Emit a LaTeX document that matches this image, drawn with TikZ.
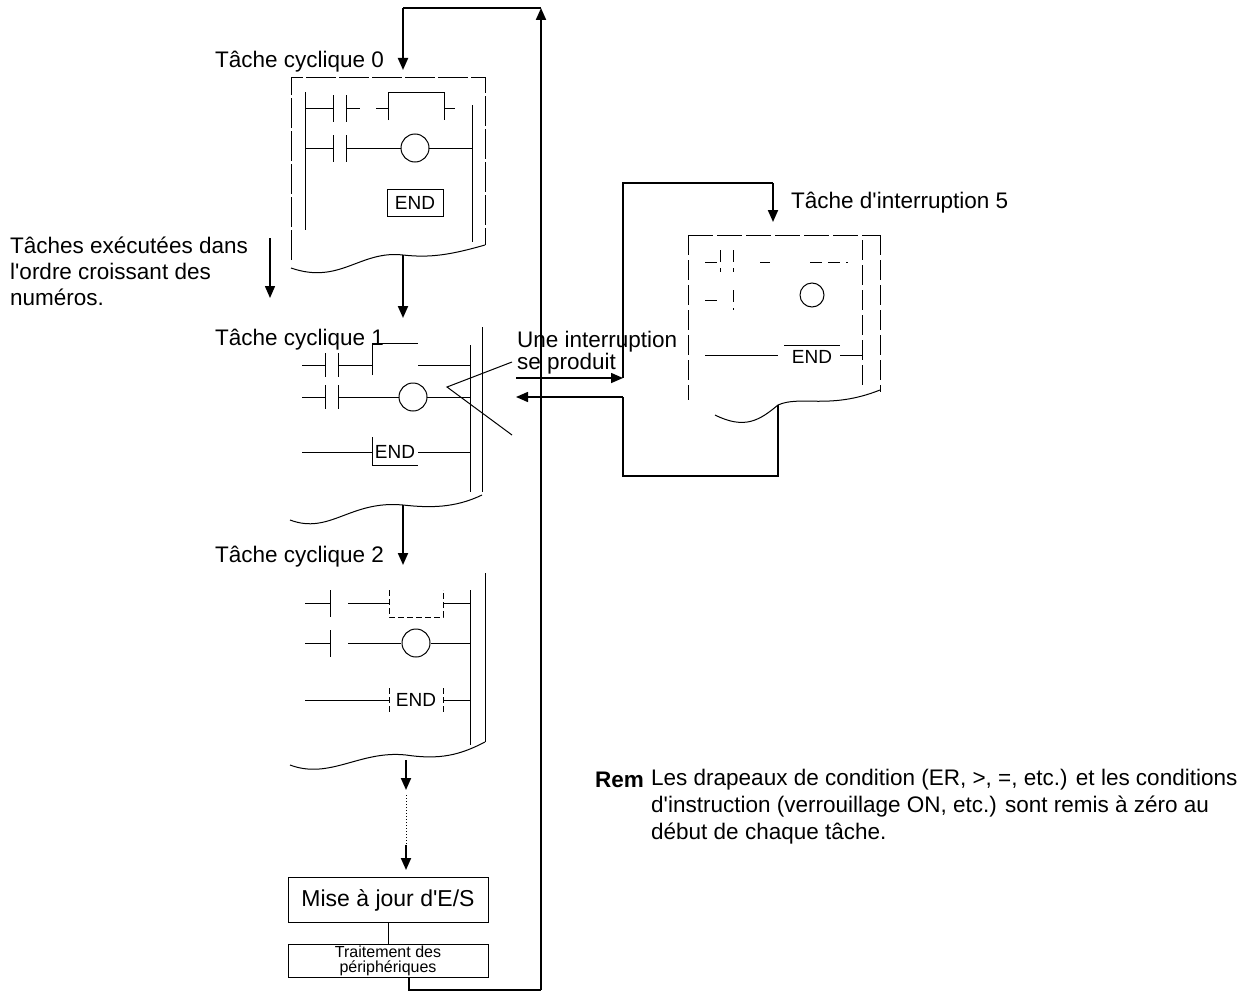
\documentclass[tikz,border=0pt]{standalone}
\usepackage{fontspec}
\setmainfont{Liberation Sans}
\usepackage{textcomp}
\usetikzlibrary{arrows.meta}
\newcommand{\qq}{\textquotesingle}
\begin{document}
\begin{tikzpicture}[x=1pt,y=-1pt,
 lad/.style={line width=1pt},
 flow/.style={line width=2pt},
 arr/.style={flow,-{Triangle[length=12pt,width=10pt]}},
 lbl/.style={font=\fontsize{22.5}{26}\selectfont,anchor=base west,inner sep=0},
 endf/.style={font=\fontsize{19}{20}\selectfont},
 box/.style={draw,line width=1pt,minimum width=200pt,align=center,inner sep=0}]
\useasboundingbox (0,0) rectangle (1260,998);
% main return loop
\coordinate (ret0) at (409,990);
\coordinate (ret1) at (541,990);
\coordinate (top1) at (541,8);
\coordinate (top0) at (403,8);
\draw[arr] (ret1) -- (top1);
\draw[flow] (top1) -- (top0);
\draw[arr] (top0) -- (403,70);
% task 0
\node[lbl] (t0) at (215,67) {Tâche cyclique 0};
\draw[lad,dash pattern=on 30pt off 3pt] (291,260) -- (291,77) -- (485,77) -- (485,245);
\draw[lad] (305,92)--(305,230) (472,105)--(472,242);
\draw[lad] (291,268) .. controls (340,285) and (360,250) .. (403,255) .. controls (430,258) and (450,255) .. (485,245);
\draw[lad] (305,108)--(333,108) (333,95)--(333,122) (346,95)--(346,122) (346,108)--(360,108)
 (376,108)--(388,108) (388,120)--(388,92)--(444,92)--(444,120) (444,108)--(455,108);
\draw[lad] (305,148)--(333,148) (333,135)--(333,162) (346,135)--(346,162) (346,148)--(401,148)
 (429,148)--(472,148);
\draw[lad] (415,148) circle (14);
\node[draw,lad,minimum width=56pt,minimum height=27pt,inner sep=0,endf] (e0) at (415,203) {END};
\draw[arr] (403,255) -- (403,318);
% left note
\node[lbl] (n1) at (10,253) {Tâches exécutées dans};
\node[lbl] (n2) at (10,279) {l\qq ordre croissant des};
\node[lbl] (n3) at (10,305) {numéros.};
\draw[arr,line width=1.5pt] (270,238) -- (270,298);
% task 1
\node[lbl] (t1) at (215,345) {Tâche cyclique 1};
\draw[lad] (470,345)--(470,492) (482,327)--(482,492);
\draw[lad] (290,520) .. controls (330,535) and (350,500) .. (403,505) .. controls (430,508) and (455,508) .. (482,495);
\draw[lad] (302,365)--(325,365) (325,353)--(325,377) (338,353)--(338,377) (338,365)--(372,365)
 (372,375)--(372,343)--(418,343) (418,365)--(470,365);
\draw[lad] (302,397)--(325,397) (325,385)--(325,409) (338,385)--(338,409) (338,397)--(399,397)
 (427,397)--(470,397);
\draw[lad] (413,397) circle (14);
\draw[lad] (302,452)--(372,452) (372,437)--(372,465)--(418,465) (418,452)--(470,452);
\node[endf] (e1) at (395,452) {END};
\draw[arr] (403,505) -- (403,565);
% interruption
\node[lbl] (u1) at (517,347) {Une interruption};
\node[lbl] (u2) at (517,369) {se produit};
\draw[lad] (512,362) -- (447,387) -- (512,435);
\coordinate (ia) at (516,378);
\coordinate (ib) at (623,378);
\coordinate (ic) at (623,397);
\coordinate (id) at (516,397);
\draw[arr,line width=1.5pt] (ia) -- (ib);
\draw[arr,line width=1.5pt] (ic) -- (id);
\draw[flow] (ib) -- (623,183) -- (773,183);
\draw[arr] (773,183) -- (773,222);
\draw[flow] (ic) -- (623,476) -- (778,476) -- (778,405);
% interrupt task
\node[lbl] (t5) at (791,208) {Tâche d\qq interruption 5};
\draw[lad,dash pattern=on 25pt off 4pt] (688,235) -- (880,235);
\draw[lad,dash pattern=on 20pt off 5pt] (688,235) -- (688,400) (880,235)--(880,392) (862,240)--(862,388);
\draw[lad,dash pattern=on 12pt off 6pt] (705,262)--(720,262) (720,250)--(720,272) (733,250)--(733,272) (760,262)--(770,262) (810,262)--(848,262)
 (705,300)--(718,300) (733,290)--(733,310);
\draw[lad] (812,295) circle (12);
\draw[lad] (705,355)--(778,355) (784,345)--(840,345) (840,355)--(862,355);
\node[endf] (e5) at (812,357) {END};
\draw[lad] (715,415) .. controls (745,430) and (760,420) .. (778,405) .. controls (800,395) and (830,410) .. (880,390);
% task 2
\node[lbl] (t2) at (215,562) {Tâche cyclique 2};
\draw[lad] (470,590)--(470,745) (485,573)--(485,742);
\draw[lad] (290,765) .. controls (330,780) and (360,750) .. (406,755) .. controls (440,760) and (460,755) .. (485,742);
\draw[lad] (305,603)--(330,603) (330,590)--(330,617) (348,603)--(389,603) (443,603)--(470,603);
\draw[lad,dash pattern=on 6pt off 3pt] (389,590)--(389,617)--(443,617)--(443,590);
\draw[lad] (305,643)--(330,643) (330,630)--(330,657) (348,643)--(401,643) (431,643)--(470,643);
\draw[lad] (416,643) circle (14);
\draw[lad] (305,700)--(389,700) (443,700)--(470,700);
\draw[lad,dash pattern=on 6pt off 3pt] (389,688)--(389,713) (443,688)--(443,713);
\node[endf] (e2) at (416,700) {END};
\draw[arr] (406,760) -- (406,790);
\draw[lad,dotted] (406,795) -- (406,845);
\draw[arr] (406,845) -- (406,870);
% bottom boxes
\node[box,minimum height=45pt,font=\fontsize{23}{25}\selectfont] (io) at (388,900) {Mise à jour d\qq E/S};
\node[box,minimum height=33pt,font=\fontsize{16}{15}\selectfont] (per) at (388,961) {Traitement des\\périphériques};
\draw[lad] (io) -- (per);
\draw[flow] (per.south -| ret0) -- (ret0) -- (ret1);
% Rem
\node[lbl,font=\fontsize{22.5}{26}\selectfont\bfseries] (rem) at (595,787) {Rem};
\node[lbl,anchor=north west,align=left,font=\fontsize{22.5}{27}\selectfont] (remt) at (651,769) {Les drapeaux de condition (ER, >, =, etc.) et les conditions\\d\qq instruction (verrouillage ON, etc.) sont remis à zéro au\\début de chaque tâche.};
\end{tikzpicture}
\end{document}
